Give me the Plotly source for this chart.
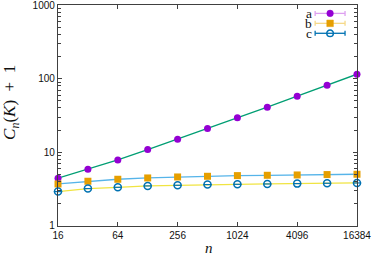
import math
import plotly.graph_objects as go

n_vals = [16, 32, 64, 128, 256, 512, 1024, 2048, 4096, 8192, 16384]
a_vals = [4.45, 5.89, 7.89, 10.9, 15.1, 21.0, 29.4, 41.0, 57.9, 81.7, 115.0]
b_vals = [3.72, 4.05, 4.31, 4.49, 4.63, 4.73, 4.83, 4.88, 4.93, 4.99, 5.04]
c_vals = [2.93, 3.22, 3.35, 3.50, 3.57, 3.65, 3.68, 3.72, 3.76, 3.80, 3.84]
x_ticks = [16, 64, 256, 1024, 4096, 16384]
x_ticktext = ["16", "64", "256", "1024", "4096", "16384"]
y_ticks = [1, 10, 100, 1000]
y_ticktext = ["1", "10", "100", "1000"]
y_minor = [m * d for d in (1, 10, 100) for m in range(2, 10)]
series_names = ["a", "b", "c"]

PURPLE = "#9400d3"
ORANGE = "#e69f00"
BLUE = "#0072b2"
GREEN = "#009e73"
SKY = "#56b4e9"
YELLOW = "#f0e442"

fig = go.Figure()
# fit lines
fig.add_trace(go.Scatter(x=n_vals, y=a_vals, mode="lines", line=dict(color=GREEN, width=1.3), showlegend=False))
fig.add_trace(go.Scatter(x=n_vals, y=b_vals, mode="lines", line=dict(color=SKY, width=1.3), showlegend=False))
fig.add_trace(go.Scatter(x=n_vals, y=c_vals, mode="lines", line=dict(color=YELLOW, width=1.3), showlegend=False))
# points
fig.add_trace(go.Scatter(x=n_vals, y=a_vals, mode="markers", marker=dict(color=PURPLE, size=7, symbol="circle"), showlegend=False, cliponaxis=False))
fig.add_trace(go.Scatter(x=n_vals, y=b_vals, mode="markers", marker=dict(color=ORANGE, size=7, symbol="square"), showlegend=False, cliponaxis=False))
fig.add_trace(go.Scatter(x=n_vals, y=c_vals, mode="markers", marker=dict(color=BLUE, size=7, symbol="circle-open", line=dict(width=1.5)), showlegend=False, cliponaxis=False))
fig.add_trace(go.Scatter(x=n_vals, y=c_vals, mode="markers", marker=dict(color=BLUE, size=6, symbol="line-ew-open", line=dict(width=1.2)), showlegend=False, cliponaxis=False))

axis_common = dict(
    showline=True, linecolor="#404040", linewidth=1.3, mirror="ticks",
    ticks="inside", ticklen=4, tickcolor="#404040", tickwidth=1,
    showgrid=False, zeroline=False, automargin=False, ticklabeloverflow="allow",
    tickfont=dict(family="Liberation Sans, Arial", size=10, color="#111"),
)
eps = 1e-4
fig.update_xaxes(type="log", range=[math.log10(16) - eps, math.log10(16384) + eps],
                 tickvals=x_ticks, ticktext=x_ticktext, **axis_common)
fig.update_yaxes(type="log", range=[0 - eps, 3 + eps], tickvals=y_ticks, ticktext=y_ticktext,
                 minor=dict(tickvals=y_minor, ticks="inside", ticklen=2.5, tickcolor="#404040"),
                 **axis_common)

# legend built manually (gnuplot style: label left of sample)
legend_colors_line = ["#dda0f0", "#f5d98a", BLUE]
legend_marker = [("circle", PURPLE, True), ("square", ORANGE, True), ("circle", BLUE, False)]
ys = [0.962, 0.917, 0.872]
x0, x1, xm = 0.86, 0.96, 0.91
shapes = []
annotations = []
for i, name in enumerate(series_names):
    y = ys[i]
    lc = legend_colors_line[i]
    shapes.append(dict(type="line", xref="paper", yref="paper", x0=x0, x1=x1, y0=y, y1=y, line=dict(color=lc, width=1.3)))
    for xe in (x0, x1):
        shapes.append(dict(type="line", xref="paper", yref="paper", xsizemode="pixel", ysizemode="pixel",
                           xanchor=xe, yanchor=y, x0=0, x1=0, y0=-2.5, y1=2.5, line=dict(color=lc, width=1.3)))
    kind, col, filled = legend_marker[i]
    shp = dict(type="circle" if kind == "circle" else "rect", xref="paper", yref="paper",
               xsizemode="pixel", ysizemode="pixel", xanchor=xm, yanchor=y,
               x0=-3.3, x1=3.3, y0=-3.3, y1=3.3,
               line=dict(color=col, width=1.5 if not filled else 0.5),
               fillcolor=col if filled else "rgba(0,0,0,0)")
    shapes.append(shp)
    annotations.append(dict(text=name, xref="paper", yref="paper", x=0.852, y=y, xanchor="right", yanchor="middle",
                            showarrow=False, borderpad=0,
                            font=dict(family="Liberation Serif, DejaVu Serif", size=13.5, color="#111")))

annotations.append(dict(text="<i>C</i><sub><i>n</i></sub>(<i>K</i>)&#8194;+&#8194;1", xref="paper", yref="paper",
                        x=-0.155, y=0.56, xanchor="center", yanchor="middle", textangle=-90, showarrow=False,
                        font=dict(family="Liberation Serif, DejaVu Serif", size=17, color="#111")))
annotations.append(dict(text="<i>n</i>", xref="paper", yref="paper", x=0.505, y=-0.10,
                        xanchor="center", yanchor="middle", showarrow=False, borderpad=0,
                        font=dict(family="Liberation Serif, DejaVu Serif", size=15, color="#111")))

fig.update_layout(width=374, height=257, margin=dict(l=58, r=17, t=5, b=31),
                  paper_bgcolor="white", plot_bgcolor="white", showlegend=False,
                  shapes=shapes, annotations=annotations)
fig.write_html("out.html", post_script="document.body.style.margin='0';document.body.style.padding='0';",
               config={"displayModeBar": False})
